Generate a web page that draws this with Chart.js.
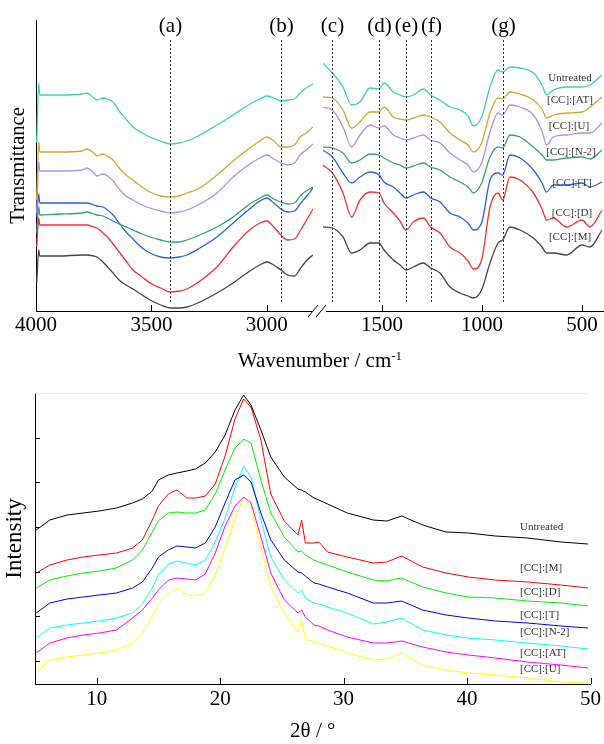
<!DOCTYPE html>
<html>
<head>
<meta charset="utf-8">
<script src="https://cdn.jsdelivr.net/npm/chart.js@4"></script>
<style>
  body { margin: 0; background: #fff; }
  #wrap { position: relative; width: 604px; height: 744px; overflow: hidden; font-family: "Liberation Serif", "Times New Roman", serif; }
  canvas { position: absolute; }
  #irLeftChart { left: 0; top: 0; }
  #irRightChart { left: 304px; top: 0; }
  #xrdChart { left: 0; top: 380px; }
  #wnTitle { position: absolute; left: 200px; width: 240px; top: 350px; text-align: center; font-size: 21px; line-height: 21px; color: #000; }
  #wnTitle sup { font-size: 13px; vertical-align: 7px; line-height: 0; }
</style>
</head>
<body>
<div id="wrap">
  <canvas id="irLeftChart" width="313" height="370"></canvas>
  <canvas id="irRightChart" width="300" height="370"></canvas>
  <canvas id="xrdChart" width="604" height="364"></canvas>
  <div id="wnTitle">Wavenumber / cm<sup>-1</sup></div>
</div>
<script>
// ---------- FTIR (top) ----------
const sampleNames = ["Untreated", "[CC]:[AT]", "[CC]:[U]", "[CC]:[N-2]", "[CC]:[T]", "[CC]:[D]", "[CC]:[M]"];
const irColors = ["#3ccfc8", "#d4a52c", "#b68be6", "#2fa56e", "#2466dc", "#ec3434", "#454545"];

const waveLeft = [3997, 3988, 3984, 3900, 3800, 3780, 3750, 3736, 3710, 3690, 3666, 3640, 3610, 3580, 3540, 3506, 3460, 3419, 3380, 3346, 3290, 3216, 3146, 3080, 3030, 3000, 2970, 2939, 2910, 2880, 2856, 2830, 2800];
const irLeftUntreated = [168, 228, 216, 216, 217, 218, 213, 211, 213, 212, 209, 200, 192, 184, 178, 174, 170, 167, 168, 170, 176, 186, 196, 206, 212, 215, 213, 210, 211, 212, 218, 223, 227];
const irLeftAT = [111, 169, 159, 159, 160, 162, 158, 155, 157, 155, 151, 143, 136, 131, 124, 119, 115, 114, 115, 118, 123, 136, 150, 162, 170, 174, 170, 164, 164, 166, 174, 178, 184];
const irLeftU = [98, 149, 140, 140, 141, 143, 138, 135, 137, 135, 130, 122, 115, 111, 106, 103, 100, 98, 99, 101, 107, 118, 134, 146, 153, 156, 152, 148, 146, 148, 156, 161, 167];
const irLeftN2 = [78, 104, 96, 97, 98, 99, 97, 96, 95, 93, 90, 87, 84, 81, 77, 74, 71, 69, 69, 71, 76, 84, 94, 106, 113, 116, 112, 109, 107, 108, 115, 120, 124];
const irLeftT = [94, 117, 108, 108, 108, 108, 106, 105, 104, 101, 96, 88, 79, 72, 63, 58, 54, 53, 54, 56, 63, 74, 88, 101, 110, 113, 108, 102, 99, 100, 107, 114, 123];
const irLeftD = [64, 93, 86, 86, 86, 86, 84, 83, 78, 74, 67, 59, 50, 41, 34, 28, 23, 19, 20, 22, 30, 44, 64, 80, 88, 90, 84, 76, 71, 72, 80, 90, 102];
const irLeftM = [28, 61, 55, 55, 56, 56, 55, 54, 49, 44, 38, 31, 26, 22, 16, 11, 6, 3, 3, 4, 9, 18, 28, 39, 46, 49, 46, 41, 36, 35, 42, 50, 56];

const waveRight = [1797, 1748, 1695, 1652, 1610, 1560, 1515, 1490, 1443, 1410, 1380, 1343, 1293, 1257, 1210, 1160, 1110, 1070, 1043, 1002, 960, 920, 897, 860, 810, 743, 700, 677, 643, 577, 500, 460, 400];
const irRightUntreated = [248, 238, 224, 206, 209, 223, 222, 228, 219, 216, 214, 216, 222, 216, 211, 204, 201, 195, 185, 194, 224, 241, 239, 244, 243, 238, 226, 216, 221, 224, 224, 226, 236];
const irRightAT = [214, 213, 201, 183, 189, 199, 199, 204, 194, 192, 191, 193, 196, 194, 189, 178, 171, 166, 159, 168, 198, 213, 212, 219, 217, 211, 202, 193, 196, 198, 199, 204, 214];
const irRightU = [204, 201, 184, 164, 176, 186, 183, 185, 176, 173, 171, 173, 176, 171, 168, 158, 151, 146, 139, 148, 179, 198, 196, 206, 204, 196, 180, 166, 174, 176, 178, 178, 188];
const irRightN2 = [164, 163, 158, 148, 151, 157, 156, 153, 148, 146, 143, 145, 148, 144, 141, 134, 129, 124, 118, 128, 154, 164, 163, 176, 174, 164, 156, 151, 151, 153, 154, 152, 161];
const irRightT = [161, 154, 138, 128, 134, 139, 136, 129, 124, 118, 113, 116, 119, 113, 109, 98, 94, 88, 81, 88, 131, 138, 136, 156, 153, 141, 128, 119, 126, 126, 128, 124, 129];
const irRightD = [146, 138, 118, 94, 111, 119, 118, 108, 98, 90, 81, 89, 93, 84, 78, 64, 58, 50, 42, 51, 104, 118, 111, 134, 131, 118, 102, 91, 93, 84, 91, 84, 101];
const irRightM = [84, 83, 74, 58, 61, 68, 68, 61, 51, 46, 41, 44, 48, 43, 38, 24, 18, 15, 13, 21, 48, 68, 71, 84, 81, 73, 64, 58, 58, 56, 66, 64, 81];

const leftTicks = [4000, 3500, 3000];
const rightTicks = [1500, 1000, 500];
const bandWaves = [3419, 2939, 1748, 1515, 1380, 1257, 897];
const bandLabels = ["(a)", "(b)", "(c)", "(d)", "(e)", "(f)", "(g)"];

// ---------- XRD (bottom) ----------
const xrdNames = ["Untreated", "[CC]:[M]", "[CC]:[D]", "[CC]:[T]", "[CC]:[N-2]", "[CC]:[AT]", "[CC]:[U]"];
const xrdColors = ["#000000", "#ff0000", "#00f000", "#0000e0", "#00ffff", "#ff00ff", "#ffff00"];
const twoTheta = [5.1, 6.2, 7.6, 8.9, 10.2, 11.6, 12.9, 13.7, 14.5, 15.0, 15.8, 16.5, 17.3, 18.0, 18.8, 19.6, 20.4, 21.2, 21.9, 22.5, 23.3, 24.1, 25.2, 26.3, 26.6, 26.9, 27.6, 28.0, 28.7, 30.3, 32.4, 33.5, 34.7, 36.4, 38.3, 40.1, 42.3, 44.9, 47.6, 49.8];
const xrdUntreated = [154, 164, 169, 171, 173, 176, 181, 185, 193, 204, 209, 211, 213, 215, 221, 232, 249, 274, 289, 279, 254, 227, 207, 195, 194, 192, 186, 184, 180, 171, 164, 163, 168, 159, 152, 151, 148, 146, 142, 140];
const xrdM = [111, 119, 124, 127, 129, 131, 136, 144, 164, 178, 190, 194, 186, 186, 188, 200, 228, 265, 285, 277, 244, 190, 163, 149, 164, 141, 141, 142, 132, 127, 121, 122, 128, 117, 111, 107, 104, 102, 99, 96];
const xrdD = [96, 104, 108, 111, 113, 116, 124, 134, 152, 163, 171, 172, 171, 171, 174, 190, 214, 236, 245, 241, 204, 171, 147, 132, 133, 129, 124, 122, 119, 112, 104, 103, 106, 97, 91, 87, 86, 83, 81, 78];
const xrdT = [71, 81, 85, 87, 89, 91, 96, 102, 116, 127, 134, 138, 137, 136, 141, 157, 181, 204, 209, 202, 171, 144, 124, 112, 111, 108, 101, 100, 97, 91, 81, 81, 83, 74, 69, 66, 63, 61, 58, 56];
const xrdN2 = [46, 56, 59, 61, 63, 66, 71, 80, 96, 109, 120, 123, 121, 119, 124, 142, 166, 196, 218, 207, 164, 127, 104, 91, 94, 86, 81, 80, 77, 71, 60, 62, 66, 54, 49, 46, 44, 41, 38, 35];
const xrdAT = [31, 41, 46, 49, 51, 54, 66, 74, 86, 94, 104, 106, 105, 104, 110, 131, 158, 178, 187, 181, 147, 111, 84, 71, 74, 67, 59, 58, 54, 47, 41, 41, 43, 37, 32, 29, 26, 22, 19, 16];
const xrdU = [12, 24, 27, 29, 31, 34, 41, 51, 68, 80, 91, 96, 89, 88, 91, 109, 136, 165, 187, 177, 137, 97, 71, 52, 64, 45, 42, 41, 38, 31, 24, 25, 31, 19, 14, 11, 9, 6, 2, 1];
const xrdTicks = [10, 20, 30, 40, 50];
const xrdYTicks = [22.8, 67.5, 112.2, 156.9, 201.6, 246.3, 291];

const serif = "'Liberation Serif', 'Times New Roman', serif";

function toPoints(xs, ys) {
  return xs.map((x, i) => ({ x: x, y: ys[i] }));
}

function irDatasets(waves, seriesList) {
  return seriesList.map((values, i) => ({
    data: toPoints(waves, values),
    borderColor: irColors[i],
    borderWidth: 1.3,
    pointRadius: 0,
    fill: false,
    cubicInterpolationMode: "monotone",
  }));
}

// tick marks pointing into the plot
function inwardTicks(xLen, yLen) {
  return {
    id: "inwardTicks",
    afterDraw(chart) {
      const { ctx, chartArea, scales } = chart;
      ctx.save();
      ctx.strokeStyle = "#000";
      ctx.lineWidth = 1;
      scales.x.ticks.forEach((t) => {
        const px = Math.round(scales.x.getPixelForValue(t.value)) + 0.5;
        ctx.beginPath();
        ctx.moveTo(px, chartArea.bottom);
        ctx.lineTo(px, chartArea.bottom - xLen);
        ctx.stroke();
      });
      if (yLen) {
        scales.y.ticks.forEach((t) => {
          const py = Math.round(scales.y.getPixelForValue(t.value)) + 0.5;
          ctx.beginPath();
          ctx.moveTo(chartArea.left, py);
          ctx.lineTo(chartArea.left + yLen, py);
          ctx.stroke();
        });
      }
      ctx.restore();
    },
  };
}

// dotted band markers with their letters
const bandMarkers = {
  id: "bandMarkers",
  afterDatasetsDraw(chart) {
    const { ctx, chartArea, scales } = chart;
    ctx.save();
    bandWaves.forEach((w, i) => {
      if (w < scales.x.min || w > scales.x.max) return;
      const px = Math.round(scales.x.getPixelForValue(w)) + 0.5;
      ctx.strokeStyle = "#333";
      ctx.lineWidth = 1;
      ctx.setLineDash([2, 2]);
      ctx.beginPath();
      ctx.moveTo(px, 40);
      ctx.lineTo(px, chartArea.bottom - 8);
      ctx.stroke();
      ctx.setLineDash([]);
      ctx.fillStyle = "#000";
      ctx.font = "21px " + serif;
      ctx.textAlign = "center";
      ctx.textBaseline = "middle";
      ctx.fillText(bandLabels[i], px, 26);
    });
    ctx.restore();
  },
};

function nameLabels(names, spots, align) {
  return {
    id: "nameLabels",
    afterDatasetsDraw(chart) {
      const ctx = chart.ctx;
      ctx.save();
      ctx.fillStyle = "#333";
      ctx.font = "11px " + serif;
      ctx.textAlign = align;
      ctx.textBaseline = "middle";
      names.forEach((n, i) => ctx.fillText(n, spots[i][0], spots[i][1]));
      ctx.restore();
    },
  };
}

const axisBreak = {
  id: "axisBreak",
  afterDraw(chart) {
    const ctx = chart.ctx;
    ctx.save();
    ctx.strokeStyle = "#000";
    ctx.lineWidth = 1;
    ctx.fillStyle = "#fff";
    ctx.fillRect(8, 308, 14, 6);
    [[4, 317, 14, 305], [12, 317, 22, 305]].forEach(([x1, y1, x2, y2]) => {
      ctx.beginPath();
      ctx.moveTo(x1, y1);
      ctx.lineTo(x2, y2);
      ctx.stroke();
    });
    ctx.restore();
  },
};

const plainNumber = (v) => String(v);

function irXAxis(min, max, ticks) {
  return {
    type: "linear",
    reverse: true,
    min: min,
    max: max,
    afterBuildTicks: (s) => { s.ticks = ticks.map((v) => ({ value: v })); },
    afterFit: (s) => { s.height = 59; },
    grid: { display: false, drawTicks: false },
    border: { color: "#000", width: 1 },
    ticks: { autoSkip: false, maxRotation: 0, padding: 2, color: "#000", callback: plainNumber, font: { family: serif, size: 21 } },
  };
}

const baseOptions = {
  responsive: false,
  animation: false,
  events: [],
  plugins: { legend: { display: false }, tooltip: { enabled: false } },
};

new Chart(document.getElementById("irLeftChart"), {
  type: "line",
  data: { datasets: irDatasets(waveLeft, [irLeftUntreated, irLeftAT, irLeftU, irLeftN2, irLeftT, irLeftD, irLeftM]) },
  options: {
    ...baseOptions,
    layout: { padding: { top: 20, left: 0, right: 0, bottom: 0 } },
    scales: {
      x: irXAxis(2800, 4000, leftTicks),
      y: {
        min: 0,
        max: 291,
        afterFit: (s) => { s.width = 36; },
        grid: { display: false, drawTicks: false },
        border: { color: "#000", width: 1 },
        ticks: { display: false },
        title: { display: true, text: "Transmittance", color: "#000", padding: { top: 6, bottom: 0 }, font: { family: serif, size: 20.5 } },
      },
    },
  },
  plugins: [inwardTicks(6, 0), bandMarkers],
});

new Chart(document.getElementById("irRightChart"), {
  type: "line",
  data: { datasets: irDatasets(waveRight, [irRightUntreated, irRightAT, irRightU, irRightN2, irRightT, irRightD, irRightM]) },
  options: {
    ...baseOptions,
    layout: { padding: { top: 20, left: 19, right: 0, bottom: 0 } },
    scales: {
      x: irXAxis(390, 1795, rightTicks),
      y: { display: false, min: 0, max: 291 },
    },
  },
  plugins: [
    inwardTicks(6, 0),
    bandMarkers,
    axisBreak,
    nameLabels(sampleNames, [[266, 78], [266, 100], [265, 126], [267, 152], [268, 183], [268, 213], [266, 237]], "center"),
  ],
});

new Chart(document.getElementById("xrdChart"), {
  type: "line",
  data: {
    datasets: [xrdUntreated, xrdM, xrdD, xrdT, xrdN2, xrdAT, xrdU].map((values, i) => ({
      data: toPoints(twoTheta, values),
      borderColor: xrdColors[i],
      borderWidth: 1,
      pointRadius: 0,
      fill: false,
      tension: 0,
    })),
  },
  options: {
    ...baseOptions,
    layout: { padding: { top: 13, left: 0, right: 8, bottom: 0 } },
    scales: {
      x: {
        type: "linear",
        min: 5,
        max: 50,
        afterBuildTicks: (s) => { s.ticks = xrdTicks.map((v) => ({ value: v })); },
        afterFit: (s) => { s.height = 60; },
        grid: { display: false, drawTicks: false },
        border: { color: "#000", width: 1 },
        ticks: { autoSkip: false, maxRotation: 0, padding: 3, color: "#000", callback: plainNumber, font: { family: serif, size: 21 } },
        title: { display: true, text: "2θ / °", color: "#000", padding: 0, font: { family: serif, size: 21 } },
      },
      y: {
        min: 0,
        max: 291,
        afterBuildTicks: (s) => { s.ticks = xrdYTicks.map((v) => ({ value: v })); },
        afterFit: (s) => { s.width = 35; },
        grid: { display: false, drawTicks: false },
        border: { color: "#000", width: 1 },
        ticks: { display: false },
        title: { display: true, text: "Intensity", color: "#000", padding: { top: 1, bottom: 0 }, font: { family: serif, size: 23 } },
      },
    },
  },
  plugins: [
    inwardTicks(6, 5),
    {
      id: "topEdge",
      afterDraw(chart) {
        const { ctx, chartArea } = chart;
        ctx.save();
        ctx.strokeStyle = "#e6e6e6";
        ctx.beginPath();
        ctx.moveTo(chartArea.left, chartArea.top + 0.5);
        ctx.lineTo(chartArea.right - 3, chartArea.top + 0.5);
        ctx.stroke();
        ctx.restore();
      },
    },
    nameLabels(xrdNames, [[520, 147], [520, 188], [520, 212], [520, 235], [520, 252], [520, 273], [520, 289]], "left"),
  ],
});
</script>
</body>
</html>
